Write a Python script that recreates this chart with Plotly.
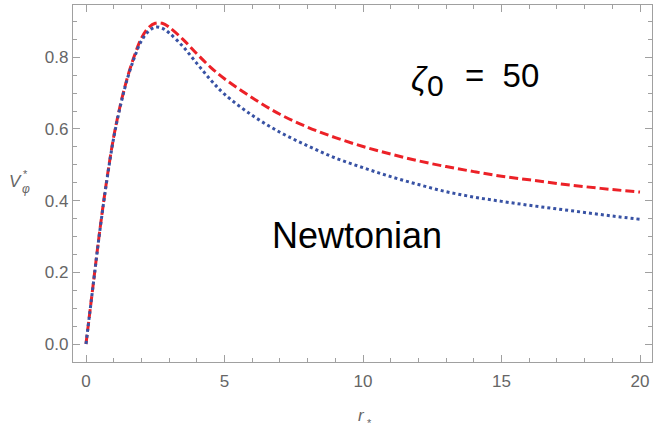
import plotly.graph_objects as go

# ---- data ----
r_red = [0, 0.25, 0.5, 0.75, 1.0, 1.25, 1.5, 1.75, 2.0, 2.25, 2.5, 2.75, 3.0, 3.5, 4, 4.5, 5,
         6, 7, 8, 9, 10, 11, 12, 13, 14, 15, 16, 17, 18, 19, 20]
v_red = [0, 0.160, 0.318, 0.458, 0.578, 0.670, 0.745, 0.805, 0.853, 0.882, 0.895, 0.895, 0.884,
         0.850, 0.810, 0.772, 0.740, 0.687, 0.641, 0.605, 0.576, 0.551, 0.530, 0.511, 0.495,
         0.481, 0.468, 0.458, 0.448, 0.439, 0.431, 0.424]
r_blue = r_red
v_blue = [0, 0.159, 0.316, 0.455, 0.575, 0.667, 0.742, 0.800, 0.846, 0.872, 0.884, 0.881, 0.868,
          0.830, 0.783, 0.737, 0.697, 0.638, 0.591, 0.553, 0.519, 0.492, 0.467, 0.445, 0.425,
          0.410, 0.398, 0.387, 0.377, 0.367, 0.357, 0.348]

x_ticks = [0, 5, 10, 15, 20]
x_ticklabels = ["0", "5", "10", "15", "20"]
y_ticks = [0.0, 0.2, 0.4, 0.6, 0.8]
y_ticklabels = ["0.0", "0.2", "0.4", "0.6", "0.8"]

label_zeta = "<i>ζ</i>"
label_zeta_sub = "0"
label_eq = "=  50"
label_newton = "Newtonian"

FONT = "Liberation Sans, Arial, sans-serif"
AXIS_GRAY = "#a0a0a0"
TEXT_GRAY = "#666666"

# plot area in pixels
L, R, T, B = 73, 652, 5, 362
X0_PX, X_SCALE = 86.0, 27.7
Y0_PX, Y_SCALE = 344.0, 358.4
def px2x(px):
    return (px - X0_PX) / X_SCALE
def py2y(py):
    return (Y0_PX - py) / Y_SCALE

fig = go.Figure()
fig.add_trace(go.Scatter(x=r_red, y=v_red, mode="lines",
                         line=dict(color="#ec2127", width=3, dash="9px,4px", shape="spline"),
                         showlegend=False, hoverinfo="skip"))
fig.add_trace(go.Scatter(x=r_blue, y=v_blue, mode="lines",
                         line=dict(color="#3852a4", width=3, dash="3px,3px", shape="spline"),
                         showlegend=False, hoverinfo="skip"))

axis_common = dict(showline=True, linecolor=AXIS_GRAY, linewidth=1.4, mirror="allticks",
                   ticks="inside", tickcolor=AXIS_GRAY, tickwidth=1.2, ticklen=7,
                   showgrid=False, zeroline=False,
                   tickfont=dict(family=FONT, size=17, color=TEXT_GRAY))

fig.update_xaxes(range=[px2x(L), px2x(R)], tickmode="array", tickvals=x_ticks, ticktext=x_ticklabels,
                 minor=dict(tickmode="linear", tick0=0, dtick=1, ticks="inside", ticklen=4,
                            tickcolor=AXIS_GRAY, tickwidth=1.2, showgrid=False),
                 ticklabelstandoff=3, **axis_common)
fig.update_yaxes(range=[py2y(B), py2y(T)], tickmode="array", tickvals=y_ticks, ticktext=y_ticklabels,
                 minor=dict(tickmode="linear", tick0=0, dtick=0.05, ticks="inside", ticklen=4,
                            tickcolor=AXIS_GRAY, tickwidth=1.2, showgrid=False),
                 **axis_common)

ann = []
def add(text, px, py, size, color="black", xanchor="center", yanchor="middle"):
    ann.append(dict(text=text, x=(px - L) / (R - L), y=(B - py) / (B - T),
                    xref="paper", yref="paper", showarrow=False,
                    xanchor=xanchor, yanchor=yanchor,
                    font=dict(family=FONT, size=size, color=color)))

add(label_zeta, 420, 78, 33)
add(label_zeta_sub, 435, 85, 30)
add(label_eq, 463, 76, 33, xanchor="left")
add(label_newton, 357, 236, 36)
# axis titles
add("<i>V</i>", 15, 181, 17, TEXT_GRAY)
add("*", 26, 174, 11, TEXT_GRAY)
add("<i>φ</i>", 26, 189, 12, TEXT_GRAY)
add("<i>r</i>", 361, 416, 17, TEXT_GRAY)
add("*", 369, 423, 11, TEXT_GRAY)

fig.update_layout(width=653, height=428, margin=dict(l=L, r=653 - R, t=T, b=428 - B),
                  paper_bgcolor="white", plot_bgcolor="white", annotations=ann)

fig.write_html("out.html")
